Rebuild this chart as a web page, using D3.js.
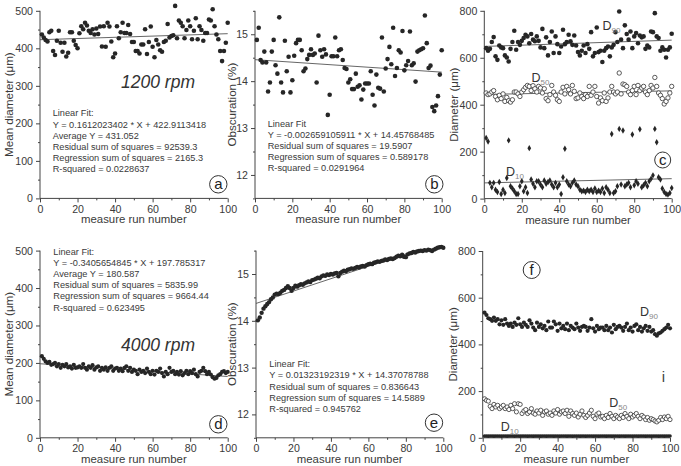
<!DOCTYPE html>
<html><head><meta charset="utf-8">
<script src="https://cdn.jsdelivr.net/npm/d3@7"></script>
<style>
body{margin:0;background:#fff;}
svg{display:block;font-family:"Liberation Sans",Arial,sans-serif;}
</style></head>
<body><svg id="c" width="681" height="466"></svg>
<script>
// ---------------- DATA ----------------
const runNumbers = d3.range(1, 101);
const xTicks = [0, 20, 40, 60, 80, 100];

// (a) 1200 rpm mean diameter
const meanDiam1200 = [437,429,422,418,443,447,393,382,420,447,415,391,415,378,388,443,443,420,409,400,
440,459,451,468,461,447,441,451,437,453,438,458,405,459,404,468,458,418,376,386,
459,427,443,468,441,441,462,438,417,417,393,393,386,410,410,451,385,417,458,404,
376,422,410,395,391,417,420,465,429,433,435,513,427,474,468,459,427,449,474,459,
424,447,480,424,459,449,420,441,441,477,474,504,459,437,424,393,366,393,415,468];
const fit1200Mean = [0.1612023402, 422.9113418];
const stats1200Mean = ["Linear Fit:", "Y = 0.1612023402 * X + 422.9113418", "Average Y = 431.052",
  "Residual sum of squares = 92539.3", "Regression sum of squares = 2165.3", "R-squared = 0.0228637"];

// (b) 1200 rpm obscuration
const obsc1200 = [14.88,15.14,14.45,14.40,14.63,14.40,13.78,13.97,14.63,14.88,
14.34,14.16,15.36,13.97,13.76,14.86,14.21,14.52,13.76,14.02,
14.54,14.81,14.88,14.88,14.66,14.21,14.27,14.47,14.56,14.68,
14.56,14.59,13.97,14.97,14.66,14.52,14.68,14.57,13.28,13.71,
14.53,14.53,14.93,14.53,14.66,14.68,14.45,14.28,14.26,13.97,
14.04,13.83,13.83,14.16,13.88,13.91,13.61,13.82,13.95,13.95,
13.95,14.21,13.71,13.48,14.14,13.86,13.84,14.93,13.78,14.27,
14.47,14.73,14.36,15.14,14.11,14.28,14.66,14.61,15.07,14.23,
14.34,14.43,15.06,14.34,14.38,13.99,14.63,14.66,14.68,14.70,
15.40,14.81,14.28,14.33,13.45,13.36,13.48,13.68,14.14,14.66];
const fit1200Obsc = [-0.002659105911, 14.45768485];
const stats1200Obsc = ["Linear Fit", "Y = -0.002659105911 * X + 14.45768485",
  "Residual sum of squares = 19.5907", "Regression sum of squares = 0.589178", "R-squared = 0.0291964"];

// (c) 1200 rpm D90 / D50 / D10
const d90_1200 = [641,630,638,667,688,606,591,652,644,641,
610,601,584,638,667,715,634,667,655,672,
684,698,691,662,701,677,670,691,672,644,
723,641,687,610,667,712,620,691,658,620,
648,719,658,667,698,670,655,695,652,624,
610,630,652,620,658,638,709,606,620,729,
624,630,582,630,641,648,606,644,655,709,
667,797,677,641,738,701,677,712,641,691,
705,662,695,687,691,638,652,644,712,709,
790,691,684,630,644,634,601,634,644,702];
const d50_1200 = [450,443,446,454,460,435,421,440,426,446,
414,431,417,411,421,454,454,446,435,454,
464,474,482,478,460,481,468,454,478,471,
450,468,426,417,443,482,454,440,421,414,
454,474,446,478,464,446,482,457,426,429,
450,435,426,443,435,478,440,454,478,435,
407,429,417,450,414,429,454,478,454,446,
454,535,446,488,485,478,454,443,460,478,
443,482,460,471,478,454,443,460,482,471,
516,478,450,440,426,403,414,429,450,478];
const d10_1200 = [258,243,67,48,67,38,28,71,20,38,
24,88,248,53,43,31,20,20,53,74,
31,48,24,215,81,63,48,74,74,60,
48,77,63,71,77,60,48,67,48,60,
20,91,212,74,60,53,67,77,60,53,
38,31,34,28,38,31,38,28,43,28,
34,28,43,24,48,38,24,275,24,31,
53,297,60,290,53,60,67,48,273,57,
74,63,295,48,57,67,53,74,85,99,
297,240,91,81,43,28,20,17,24,45];

// (d) 4000 rpm mean diameter
const meanDiam4000 = [218,211,204,200,203,195,197,200,191,197,
187,195,191,197,188,191,185,195,187,188,
191,187,197,187,182,191,187,194,182,188,
191,179,187,182,188,179,187,191,179,185,
187,179,185,178,187,191,179,187,176,182,
179,170,182,176,179,173,185,176,170,179,
169,179,176,185,173,164,176,170,187,176,
179,170,176,169,178,167,173,179,170,178,
173,182,170,164,176,179,187,178,170,176,
169,162,158,160,167,170,176,178,173,176];
const fit4000Mean = [-0.3405654845, 197.785317];
const stats4000Mean = ["Linear Fit:", "Y = -0.3405654845 * X + 197.785317", "Average Y = 180.587",
  "Residual sum of squares = 5835.99", "Regression sum of squares = 9664.44", "R-squared = 0.623495"];

// (e) 4000 rpm obscuration
const obsc4000 = [14.01,14.07,14.17,14.26,14.31,14.36,14.40,14.46,14.50,14.56,
14.58,14.57,14.60,14.64,14.66,14.70,14.74,14.70,14.64,14.70,
14.75,14.73,14.76,14.78,14.77,14.80,14.82,14.84,14.83,14.87,
14.88,14.90,14.92,14.91,14.95,14.97,14.96,14.99,14.98,15.00,
14.99,15.01,15.02,14.95,15.02,15.05,15.07,15.06,15.09,15.10,
15.12,15.11,15.13,15.15,15.14,15.16,15.17,15.16,15.19,15.21,
15.22,15.21,15.24,15.25,15.27,15.26,15.28,15.29,15.31,15.30,
15.32,15.33,15.32,15.34,15.37,15.39,15.38,15.41,15.37,15.36,
15.42,15.44,15.45,15.47,15.46,15.48,15.49,15.50,15.49,15.51,
15.50,15.52,15.51,15.49,15.52,15.54,15.56,15.57,15.58,15.56];
const fit4000Obsc = [0.01323192319, 14.37078788];
const stats4000Obsc = ["Linear Fit:", "Y = 0.01323192319 * X + 14.37078788",
  "Residual sum of squares = 0.836643", "Regression sum of squares = 14.5889", "R-squared = 0.945762"];

// (f) 4000 rpm D90 / D50 / D10
const d90_4000 = [536,526,512,508,501,515,501,508,486,503,
484,508,489,479,489,475,493,484,512,486,
475,493,484,475,503,489,472,461,493,475,
486,469,479,461,498,472,472,498,486,458,
489,469,479,465,489,461,479,472,465,489,
472,458,475,479,475,458,472,508,469,455,
479,465,472,472,461,479,461,472,451,484,
465,475,479,472,458,475,489,461,472,455,
479,486,461,475,455,469,479,458,475,455,
461,444,437,447,451,458,465,472,484,469];
const d50_4000 = [167,160,157,135,125,143,132,139,125,132,
139,125,132,121,139,125,146,111,146,143,
104,115,121,104,111,125,106,101,115,106,
118,96,111,115,101,106,96,115,106,121,
101,111,115,104,118,92,115,104,96,106,
89,101,115,96,87,96,106,118,92,82,
101,106,89,92,82,96,87,104,92,82,
96,89,82,96,87,104,92,82,101,89,
96,104,92,82,96,89,78,87,75,82,
78,72,68,75,87,78,89,82,92,78];
const d10_4000 = [8,8,7,8,8,7,8,8,8,7,8,8,7,8,8,8,7,8,8,7,
8,8,8,7,8,8,7,8,8,8,7,8,8,7,8,8,8,7,8,8,
7,8,8,8,7,8,8,7,8,8,8,7,8,8,7,8,8,8,7,8,
8,7,8,8,8,7,8,8,7,8,8,8,7,8,8,7,8,8,8,7,
8,8,7,8,8,8,7,8,8,7,8,8,8,7,8,8,7,8,8,8];

// ---------------- DRAWING ----------------
const svg = d3.select("#c");
const INK = "#262626", AXIS = "#444", TXT = "#3a3a3a";

function linReg(xs, ys) {
  const mx = d3.mean(xs), my = d3.mean(ys);
  let sxy = 0, sxx = 0;
  xs.forEach((x, i) => { sxy += (x - mx) * (ys[i] - my); sxx += (x - mx) * (x - mx); });
  const b = sxy / sxx; return [b, my - b * mx];
}

function panel(o) {
  const g = svg.append("g");
  const x = d3.scaleLinear().domain([0, 100]).range([o.x0, o.x1]);
  const y = d3.scaleLinear().domain(o.yDomain).range([o.bottom, o.top]);
  const ax = g.append("g").attr("transform", `translate(0,${o.bottom})`)
    .call(d3.axisBottom(x).tickValues(xTicks).tickSize(4).tickPadding(3).tickFormat(d3.format("d")));
  g.append("g").attr("transform", `translate(0,${o.bottom})`)
    .call(d3.axisBottom(x).tickValues([10,30,50,70,90]).tickSize(2).tickFormat("")).select(".domain").remove();
  const ay = g.append("g").attr("transform", `translate(${o.x0},0)`)
    .call(d3.axisLeft(y).tickValues(o.yTicks).tickSize(4).tickPadding(3).tickFormat(o.yFmt || d3.format("d")));
  g.append("g").attr("transform", `translate(${o.x0},0)`)
    .call(d3.axisLeft(y).tickValues(o.yMinor).tickSize(2).tickFormat("")).select(".domain").remove();
  g.selectAll(".domain").attr("stroke", AXIS).attr("stroke-width", 1);
  ax.select(".domain").attr("d", `M${o.x0},0H${o.x1}`);
  ay.select(".domain").attr("d", `M0,${o.bottom}V${o.top}`);
  g.selectAll(".tick line").attr("stroke", AXIS);
  g.selectAll(".tick text").attr("fill", TXT).style("font-size", "10.6px");
  g.append("text").attr("x", (o.x0 + o.x1) / 2).attr("y", o.bottom + 25)
    .attr("text-anchor", "middle").style("font-size", "11.4px").attr("fill", TXT).text("measure run number");
  g.append("text").attr("transform", `translate(${o.ylx},${(o.top + o.bottom) / 2}) rotate(-90)`)
    .attr("text-anchor", "middle").style("font-size", "11.6px").attr("fill", TXT).text(o.ylabel);
  return { g, x, y };
}

function fitLine(p, coef, clip) {
  const [b, a] = coef;
  let x1 = 0, x2 = 100;
  const dom = p.y.domain();
  if (clip && b > 0) x2 = Math.min(100, (dom[1] - a) / b);
  p.g.append("line").attr("x1", p.x(x1)).attr("y1", p.y(a + b * x1))
    .attr("x2", p.x(x2)).attr("y2", p.y(a + b * x2))
    .attr("stroke", "#555").attr("stroke-width", 0.9);
}

function dots(p, vals, r, open) {
  p.g.append("g").selectAll("circle").data(vals).join("circle")
    .attr("cx", (d, i) => p.x(runNumbers[i])).attr("cy", d => p.y(d)).attr("r", r)
    .attr("fill", open ? "#fff" : INK).attr("stroke", open ? "#333" : "none").attr("stroke-width", open ? 0.8 : 0);
}
function diamonds(p, vals, size) {
  p.g.append("g").selectAll("path").data(vals).join("path")
    .attr("transform", (d, i) => `translate(${p.x(runNumbers[i])},${p.y(d)})`)
    .attr("d", d3.symbol().type(d3.symbolDiamond).size(size)).attr("fill", INK);
}
function statsText(p, lines, x, y0, dy) {
  const t = p.g.append("text").style("font-size", "9.2px").attr("fill", TXT);
  lines.forEach((s, i) => t.append("tspan").attr("x", x).attr("y", y0 + i * dy).text(s));
}
function circLabel(p, cx, cy, r, ch) {
  p.g.append("circle").attr("cx", cx).attr("cy", cy).attr("r", r).attr("fill", "#fff").attr("stroke", "#333").attr("stroke-width", 1);
  p.g.append("text").attr("x", cx).attr("y", cy + 5).attr("text-anchor", "middle").style("font-size", "15px").attr("fill", "#222").text(ch);
}
function dLabel(p, x, y, sub) {
  const t = p.g.append("text").attr("x", x).attr("y", y).style("font-size", "12.5px").attr("fill", "#333").text("D");
  t.append("tspan").attr("dy", 3).style("font-size", "8px").attr("fill", "#888").text(sub);
}

const diamTicks = [0, 100, 200, 300, 400, 500], diamMinor = [50,150,250,350,450];
const obTicks = [12, 13, 14, 15], obMinor = [11.5, 12.5, 13.5, 14.5, 15.5];
const dTicks = [0, 200, 400, 600, 800], dMinor = [100, 300, 500, 700];

// (a)
const pa = panel({x0:40, x1:227.7, top:10.8, bottom:198.4, yDomain:[0,500], yTicks:diamTicks, yMinor:diamMinor, ylx:13, ylabel:"Mean diameter (\u03bcm)"});
fitLine(pa, fit1200Mean);
dots(pa, meanDiam1200, 2.3);
statsText(pa, stats1200Mean, 52.7, 116.3, 11.2);
pa.g.append("text").attr("x", 158).attr("y", 88).attr("text-anchor", "middle").style("font-size", "17.5px").style("font-style", "italic").attr("fill", "#333").text("1200 rpm");
circLabel(pa, 218.3, 184.3, 8.7, "a");

// (b)
const pb = panel({x0:255, x1:441.7, top:10.8, bottom:198.4, yDomain:[11.5,15.5], yTicks:obTicks, yMinor:obMinor, ylx:236, ylabel:"Obscuration (%)"});
fitLine(pb, fit1200Obsc);
dots(pb, obsc1200, 2.3);
statsText(pb, stats1200Obsc, 267.7, 126.6, 11.2);
circLabel(pb, 434.3, 184.3, 8.7, "b");

// (c)
const pc = panel({x0:484.3, x1:671.7, top:10.8, bottom:198.6, yDomain:[0,800], yTicks:dTicks, yMinor:dMinor, ylx:458, ylabel:"Diameter (\u03bcm)"});
fitLine(pc, linReg(runNumbers, d90_1200));
fitLine(pc, linReg(runNumbers, d50_1200));
fitLine(pc, linReg(runNumbers, d10_1200));
dots(pc, d90_1200, 2.3);
dots(pc, d50_1200, 2.2, true);
diamonds(pc, d10_1200, 12);
dLabel(pc, 602.5, 29.5, "90");
dLabel(pc, 531.5, 81.8, "50");
dLabel(pc, 506, 175.8, "10");
circLabel(pc, 662.7, 160, 8, "c");

// (d)
const pd = panel({x0:40, x1:227.7, top:250.6, bottom:437.8, yDomain:[0,500], yTicks:diamTicks, yMinor:diamMinor, ylx:13, ylabel:"Mean diameter (\u03bcm)"});
fitLine(pd, fit4000Mean);
dots(pd, meanDiam4000, 2.1);
statsText(pd, stats4000Mean, 53.3, 255, 11.1);
pd.g.append("text").attr("x", 158).attr("y", 351).attr("text-anchor", "middle").style("font-size", "17.5px").style("font-style", "italic").attr("fill", "#333").text("4000 rpm");
circLabel(pd, 218.3, 424.3, 8.7, "d");

// (e)
const pe = panel({x0:256, x1:443.3, top:250.6, bottom:437.8, yDomain:[11.5,15.5], yTicks:obTicks, yMinor:obMinor, ylx:236, ylabel:"Obscuration (%)"});
fitLine(pe, fit4000Obsc, true);
dots(pe, obsc4000, 2.2);
statsText(pe, stats4000Obsc, 269.3, 367.3, 11.1);
circLabel(pe, 434, 422.7, 8.7, "e");

// (f)
const pf = panel({x0:482.7, x1:670, top:251, bottom:437.8, yDomain:[0,800], yTicks:dTicks, yMinor:dMinor, ylx:457, ylabel:"Diameter (\u03bcm)"});
dots(pf, d90_4000, 2.1);
dots(pf, d50_4000, 2.1, true);
dots(pf, d10_4000, 1.8);
dLabel(pf, 640, 316, "90");
dLabel(pf, 609.3, 407.3, "50");
dLabel(pf, 500.7, 430.5, "10");
pf.g.append("text").attr("x", 663.3).attr("y", 382).attr("text-anchor", "middle").style("font-size", "15px").attr("fill", "#444").text("i");
circLabel(pf, 531.7, 270, 8.5, "f");
</script></body></html>
